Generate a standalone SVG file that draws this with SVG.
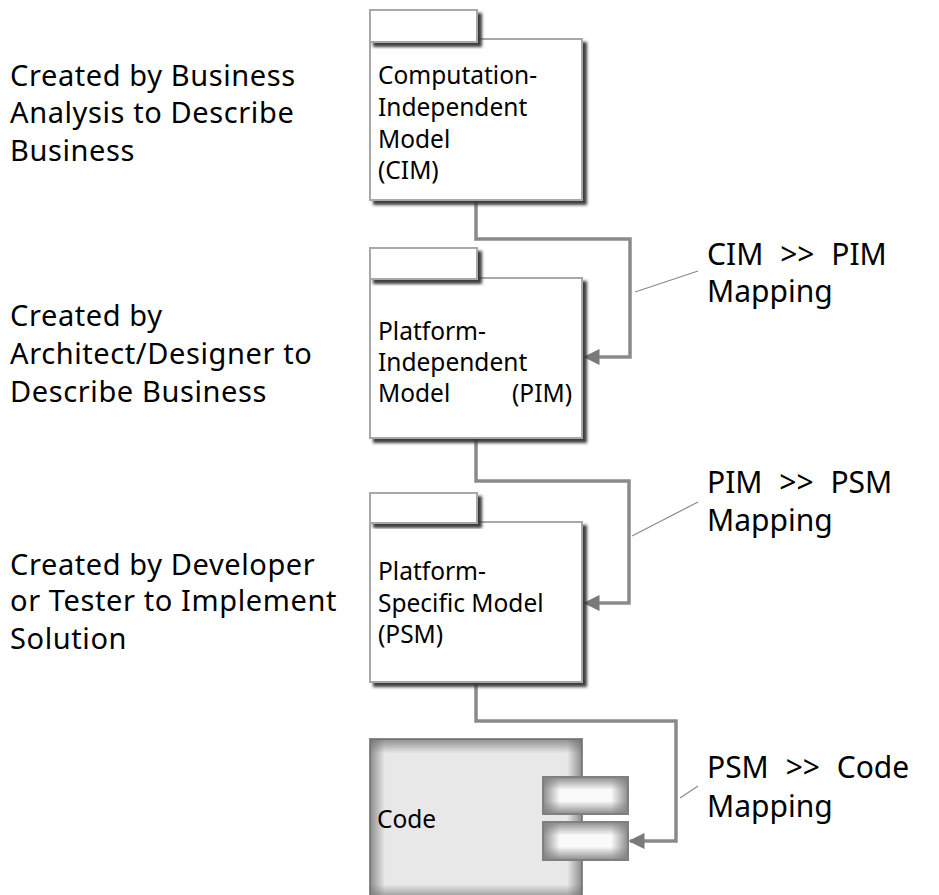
<svg xmlns="http://www.w3.org/2000/svg" width="939" height="895" viewBox="0 0 939 895">
<style>
.lbl{font-family:"Noto Sans","Open Sans","DejaVu Sans",sans-serif;font-size:29px;letter-spacing:0.6px;fill:#000}
.map{font-family:"Noto Sans","Open Sans","DejaVu Sans",sans-serif;font-size:30px;fill:#000}
.bx{font-family:"Noto Sans","Open Sans","DejaVu Sans",sans-serif;font-size:24.5px;fill:#000}
.pkg{fill:#fff;stroke:#a8a8a8;stroke-width:2;filter:url(#sh)}
.conn{fill:none;stroke:#8a8a8a;stroke-width:3.5}
.lead{fill:none;stroke:#8a8a8a;stroke-width:1.2}
</style>
<defs>
<filter id="sh" x="-10%" y="-10%" width="130%" height="130%">
<feDropShadow dx="4" dy="4" stdDeviation="1.6" flood-color="#333" flood-opacity="0.95"/>
</filter>
<marker id="arr" viewBox="0 0 10 10" refX="9" refY="5" markerWidth="5" markerHeight="4.6" orient="auto" markerUnits="strokeWidth">
<path d="M0,0 L10,5 L0,10 z" fill="#7a7a7a"/>
</marker>
<linearGradient id="gh" x1="0" y1="0" x2="1" y2="0">
<stop offset="0" stop-color="#6e6e6e" stop-opacity="0.75"/>
<stop offset="0.07" stop-color="#6e6e6e" stop-opacity="0"/>
<stop offset="0.93" stop-color="#6e6e6e" stop-opacity="0"/>
<stop offset="1" stop-color="#6e6e6e" stop-opacity="0.75"/>
</linearGradient>
<linearGradient id="gv" x1="0" y1="0" x2="0" y2="1">
<stop offset="0" stop-color="#6e6e6e" stop-opacity="0.75"/>
<stop offset="0.09" stop-color="#6e6e6e" stop-opacity="0"/>
<stop offset="0.91" stop-color="#6e6e6e" stop-opacity="0"/>
<stop offset="1" stop-color="#6e6e6e" stop-opacity="0.75"/>
</linearGradient>
<linearGradient id="sh2" x1="0" y1="0" x2="1" y2="0">
<stop offset="0" stop-color="#808080" stop-opacity="0.9"/>
<stop offset="0.2" stop-color="#808080" stop-opacity="0"/>
<stop offset="0.8" stop-color="#808080" stop-opacity="0"/>
<stop offset="1" stop-color="#808080" stop-opacity="0.9"/>
</linearGradient>
<linearGradient id="sv2" x1="0" y1="0" x2="0" y2="1">
<stop offset="0" stop-color="#808080" stop-opacity="0.9"/>
<stop offset="0.35" stop-color="#808080" stop-opacity="0"/>
<stop offset="0.65" stop-color="#808080" stop-opacity="0"/>
<stop offset="1" stop-color="#808080" stop-opacity="0.9"/>
</linearGradient>
</defs>

<g id="labels">
<text class="lbl" x="10" y="86">Created by Business</text>
<text class="lbl" x="10" y="123">Analysis to Describe</text>
<text class="lbl" x="10" y="161">Business</text>
<text class="lbl" x="10" y="326">Created by</text>
<text class="lbl" x="10" y="364">Architect/Designer to</text>
<text class="lbl" x="10" y="402">Describe Business</text>
<text class="lbl" x="10" y="575">Created by Developer</text>
<text class="lbl" x="10" y="611">or Tester to Implement</text>
<text class="lbl" x="10" y="649">Solution</text>
</g>

<g id="connectors">
<polyline class="conn" points="476,200 476,239 630,239 630,357 585,357" marker-end="url(#arr)"/>
<polyline class="conn" points="476,438 476,481 629,481 629,603 585,603" marker-end="url(#arr)"/>
<polyline class="conn" points="476,682 476,721 676,721 676,841 630,841" marker-end="url(#arr)"/>
<line class="lead" x1="635" y1="292" x2="698" y2="271"/>
<line class="lead" x1="632" y1="536" x2="698" y2="502"/>
<line class="lead" x1="680" y1="798" x2="698" y2="786"/>
</g>

<g id="cim">
<rect class="pkg" x="370" y="39" width="212" height="161"/>
<rect class="pkg" x="370" y="10" width="107" height="32"/>
<text class="bx" x="378" y="84">Computation-</text>
<text class="bx" x="378" y="116">Independent</text>
<text class="bx" x="378" y="148">Model</text>
<text class="bx" x="378" y="179">(CIM)</text>
</g>

<g id="pim">
<rect class="pkg" x="370" y="278" width="212" height="160"/>
<rect class="pkg" x="370" y="248" width="107" height="31"/>
<text class="bx" x="378" y="340">Platform-</text>
<text class="bx" x="378" y="371">Independent</text>
<text class="bx" x="378" y="402">Model</text>
<text class="bx" x="512" y="402">(PIM)</text>
</g>

<g id="psm">
<rect class="pkg" x="370" y="522" width="212" height="160"/>
<rect class="pkg" x="370" y="493" width="107" height="30"/>
<text class="bx" x="378" y="580">Platform-</text>
<text class="bx" x="378" y="612">Specific Model</text>
<text class="bx" x="378" y="643">(PSM)</text>
</g>

<g id="code">
<rect x="370" y="739" width="212" height="160" fill="#e8e8e8" stroke="#8a8a8a" stroke-width="2"/>
<rect x="370" y="739" width="212" height="160" fill="url(#gh)"/>
<rect x="370" y="739" width="212" height="160" fill="url(#gv)"/>
<rect x="543" y="777" width="85" height="37" fill="#fafafa" stroke="#808080" stroke-width="2"/>
<rect x="543" y="777" width="85" height="37" fill="url(#sh2)"/>
<rect x="543" y="777" width="85" height="37" fill="url(#sv2)"/>
<rect x="543" y="822" width="85" height="38" fill="#fafafa" stroke="#808080" stroke-width="2"/>
<rect x="543" y="822" width="85" height="38" fill="url(#sh2)"/>
<rect x="543" y="822" width="85" height="38" fill="url(#sv2)"/>
<text class="bx" x="377" y="828">Code</text>
</g>

<g id="mappings">
<text class="map" x="707" y="265" word-spacing="9">CIM &gt;&gt; PIM</text>
<text class="map" x="707" y="302">Mapping</text>
<text class="map" x="707" y="493" word-spacing="9">PIM &gt;&gt; PSM</text>
<text class="map" x="707" y="531">Mapping</text>
<text class="map" x="707" y="778" word-spacing="9">PSM &gt;&gt; Code</text>
<text class="map" x="707" y="817">Mapping</text>
</g>
</svg>
